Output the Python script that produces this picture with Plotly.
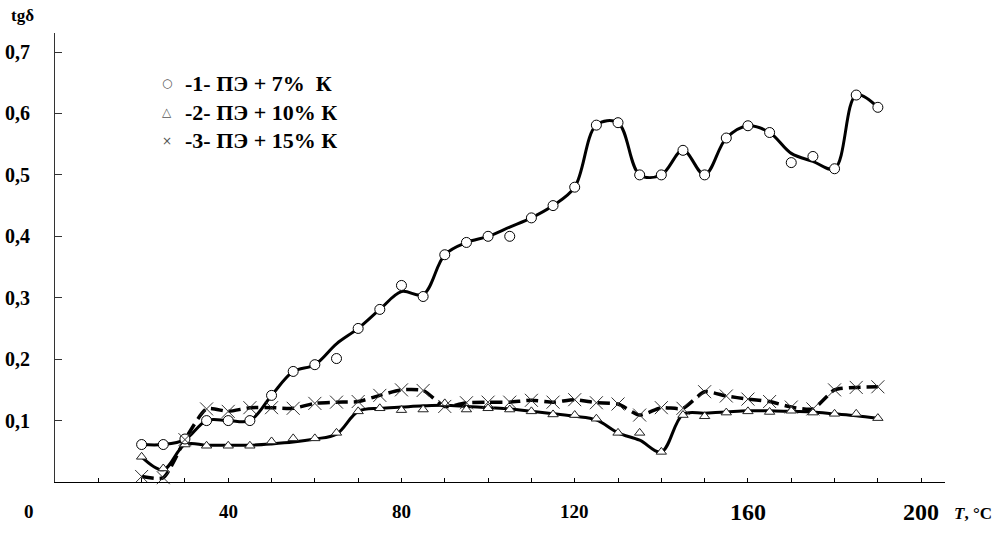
import plotly.graph_objects as go

# Temperature, °C
T = [20, 25, 30, 35, 40, 45, 50, 55, 60, 65,
     70, 75, 80, 85, 90, 95, 100, 105, 110, 115,
     120, 125, 130, 135, 140, 145, 150, 155, 160, 165,
     170, 175, 180, 185, 190]

# measured tgδ points
tg1 = [0.061, 0.061, 0.070, 0.100, 0.100, 0.100, 0.141, 0.180, 0.191, 0.201,
       0.250, 0.281, 0.320, 0.302, 0.370, 0.390, 0.400, 0.400, 0.430, 0.450,
       0.480, 0.581, 0.585, 0.500, 0.500, 0.540, 0.500, 0.560, 0.580, 0.569,
       0.520, 0.530, 0.510, 0.630, 0.610]
tg2 = [0.041, 0.022, 0.061, 0.059, 0.059, 0.059, 0.066, 0.071, 0.071, 0.080,
       0.115, 0.120, 0.117, 0.118, 0.128, 0.118, 0.120, 0.118, 0.115, 0.110,
       0.109, 0.103, 0.080, 0.080, 0.049, 0.109, 0.107, 0.113, 0.115, 0.114,
       0.116, 0.113, 0.111, 0.111, 0.104]
tg3 = [0.009, 0.007, 0.069, 0.119, 0.115, 0.121, 0.121, 0.120, 0.128, 0.130,
       0.131, 0.141, 0.150, 0.149, 0.123, 0.129, 0.130, 0.130, 0.133, 0.130,
       0.134, 0.129, 0.127, 0.109, 0.121, 0.120, 0.147, 0.140, 0.135, 0.131,
       0.122, 0.119, 0.150, 0.154, 0.155]

# smoothed trend curves
fit1 = [0.061, 0.061, 0.069, 0.100, 0.100, 0.100, 0.141, 0.180, 0.191, 0.225,
        0.250, 0.281, 0.310, 0.305, 0.370, 0.390, 0.400, 0.415, 0.430, 0.450,
        0.480, 0.581, 0.585, 0.500, 0.500, 0.540, 0.500, 0.560, 0.580, 0.569,
        0.535, 0.522, 0.510, 0.630, 0.610]
fit2 = [0.041, 0.020, 0.061, 0.060, 0.060, 0.060, 0.062, 0.065, 0.070, 0.078,
        0.115, 0.120, 0.122, 0.124, 0.125, 0.123, 0.121, 0.119, 0.115, 0.111,
        0.107, 0.101, 0.080, 0.068, 0.049, 0.110, 0.112, 0.114, 0.116, 0.116,
        0.115, 0.114, 0.111, 0.108, 0.104]

legend_labels = ["-1- ПЭ + 7%  К", "-2- ПЭ + 10% К", "-3- ПЭ + 15% К"]
legend_symbols = ["○", "△", "×"]
x_tick_labels = ["0", "40", "80", "120", "160", "200"]
x_tick_pos = [-6, 40, 80, 120, 160, 200]
x_tick_size = [19, 19, 19, 19, 24, 24]
y_ticks = [0.1, 0.2, 0.3, 0.4, 0.5, 0.6, 0.7]
y_tick_text = ["0,1", "0,2", "0,3", "0,4", "0,5", "0,6", "0,7"]

FONT = "Liberation Serif"
X0, X1 = 0, 205.5

fig = go.Figure()
fig.add_trace(go.Scatter(x=T, y=fit1, mode="lines",
                         line=dict(color="black", width=3, shape="spline", smoothing=1.0),
                         hoverinfo="skip", showlegend=False))
fig.add_trace(go.Scatter(x=T, y=fit2, mode="lines",
                         line=dict(color="black", width=3, shape="spline", smoothing=1.0),
                         hoverinfo="skip", showlegend=False))
fig.add_trace(go.Scatter(x=T, y=tg3, mode="lines",
                         line=dict(color="black", width=3.5, shape="spline", smoothing=0.6,
                                   dash="12px,6px"),
                         hoverinfo="skip", showlegend=False))
fig.add_trace(go.Scatter(x=T, y=tg2, mode="markers", name=legend_labels[1],
                         marker=dict(symbol="triangle-up", size=9, color="white",
                                     line=dict(color="#222", width=1)),
                         cliponaxis=False, showlegend=False))
fig.add_trace(go.Scatter(x=T, y=tg1, mode="markers", name=legend_labels[0],
                         marker=dict(symbol="circle", size=10, color="white",
                                     line=dict(color="black", width=1)),
                         cliponaxis=False, showlegend=False))
fig.add_trace(go.Scatter(x=T, y=tg3, mode="markers", name=legend_labels[2],
                         marker=dict(symbol="x-thin-open", size=13, color="#333",
                                     line=dict(color="#333", width=1)),
                         cliponaxis=False, showlegend=False))

ann = []
for lab, pos, sz in zip(x_tick_labels, x_tick_pos, x_tick_size):
    ann.append(dict(x=(pos - X0) / (X1 - X0), y=-0.066, xref="paper", yref="paper",
                    text="<b>%s</b>" % lab,
                    showarrow=False, xanchor="center", yanchor="middle",
                    font=dict(family=FONT, size=sz, color="black")))
ann.append(dict(x=1.032, y=-0.07, xref="paper", yref="paper",
                text="<b><i>T</i>, °C</b>", showarrow=False, xanchor="center",
                yanchor="middle", font=dict(family=FONT, size=17, color="black")))
ann.append(dict(x=-0.037, y=1.04, xref="paper", yref="paper", text="<b>tgδ</b>",
                showarrow=False, xanchor="center", yanchor="middle",
                font=dict(family=FONT, size=17, color="black")))
leg_y = [0.8886, 0.824, 0.7595]
for sym, lab, yy in zip(legend_symbols, legend_labels, leg_y):
    ann.append(dict(x=0.1258, y=yy, xref="paper", yref="paper", text=sym,
                    showarrow=False, xanchor="center", yanchor="middle",
                    font=dict(family="DejaVu Sans", size=12, color="#555")))
    ann.append(dict(x=0.1438, y=yy, xref="paper", yref="paper",
                    text="<b>%s</b>" % lab.replace("  ", "&nbsp; "),
                    showarrow=False, xanchor="left", yanchor="middle",
                    font=dict(family=FONT, size=22, color="black")))

fig.update_layout(
    width=1003, height=558,
    margin=dict(l=55, r=58, t=33, b=76, pad=0),
    paper_bgcolor="white", plot_bgcolor="white",
    showlegend=False,
    annotations=ann,
    xaxis=dict(range=[X0, X1], showline=True, linecolor="black", linewidth=1,
               ticks="inside", ticklen=4, tickcolor="black", tickwidth=1,
               tickvals=list(range(10, 201, 10)), showticklabels=False,
               showgrid=False, zeroline=False, automargin=False),
    yaxis=dict(range=[0, 0.731], showline=True, linecolor="#333", linewidth=1,
               ticks="inside", ticklen=7, tickcolor="#333", tickwidth=1,
               tickvals=y_ticks, ticktext=y_tick_text, ticklabelstandoff=20,
               tickfont=dict(family=FONT, size=20, color="black", weight="bold"),
               showgrid=False, zeroline=False, automargin=False),
)

fig.write_html("out.html", config={"displayModeBar": False},
               post_script="document.body.style.margin='0';")
